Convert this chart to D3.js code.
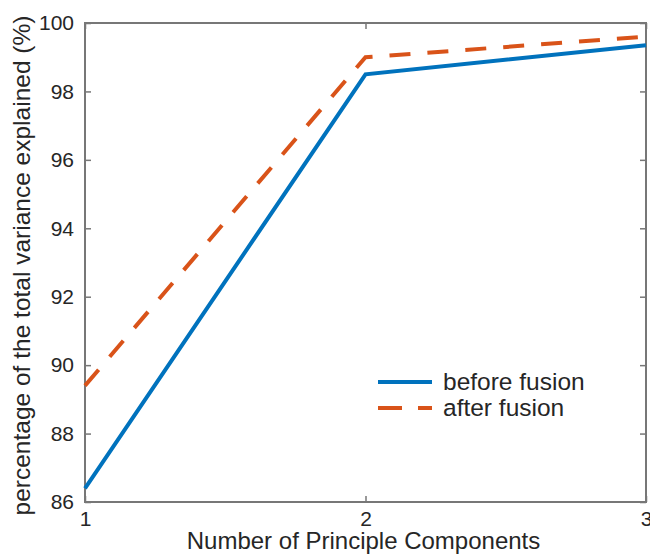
<!DOCTYPE html>
<html>
<head>
<meta charset="utf-8">
<script src="https://cdn.jsdelivr.net/npm/d3@7"></script>
<style>
  body { margin: 0; background: #fff; }
  text { font-family: "Liberation Sans", Arial, Helvetica, sans-serif; fill: #262626; }
</style>
</head>
<body>
<svg width="650" height="556"></svg>
<script>
const components = [1, 2, 3];
const beforeFusion = [86.4, 98.5, 99.35];
const afterFusion = [89.4, 99.0, 99.6];
const yTicks = [86, 88, 90, 92, 94, 96, 98, 100];
const seriesNames = ['before fusion', 'after fusion'];

const svg = d3.select('svg');
const margin = {left: 85, right: 4, top: 23, bottom: 54};
const width = +svg.attr('width');
const height = +svg.attr('height');

const x = d3.scaleLinear().domain([1, 3]).range([margin.left, width - margin.right]);
const y = d3.scaleLinear().domain([86, 100]).range([height - margin.bottom, margin.top]);

const axisColor = '#777';

// ticks on all four sides, pointing inwards
svg.append('g')
  .attr('transform', `translate(0,${y(86)})`)
  .call(d3.axisBottom(x).tickValues(components).tickSize(-6).tickPadding(9).tickFormat(d3.format('d')))
  .call(g => g.select('.domain').remove())
  .call(g => g.selectAll('line').attr('stroke', axisColor).attr('stroke-width', 1.5))
  .call(g => g.selectAll('text').attr('font-size', 21).style('fill', '#262626'));

svg.append('g')
  .attr('transform', `translate(0,${y(100)})`)
  .call(d3.axisTop(x).tickValues(components).tickSize(-6).tickFormat(''))
  .call(g => g.select('.domain').remove())
  .call(g => g.selectAll('line').attr('stroke', axisColor).attr('stroke-width', 1.5));

svg.append('g')
  .attr('transform', `translate(${x(1)},0)`)
  .call(d3.axisLeft(y).tickValues(yTicks).tickSize(-6).tickPadding(11))
  .call(g => g.select('.domain').remove())
  .call(g => g.selectAll('line').attr('stroke', axisColor).attr('stroke-width', 1.5))
  .call(g => g.selectAll('text').attr('font-size', 21).style('fill', '#262626'));

svg.append('g')
  .attr('transform', `translate(${x(3)},0)`)
  .call(d3.axisRight(y).tickValues(yTicks).tickSize(-6).tickFormat(''))
  .call(g => g.select('.domain').remove())
  .call(g => g.selectAll('line').attr('stroke', axisColor).attr('stroke-width', 1.5));

// box
svg.append('rect')
  .attr('x', x(1)).attr('y', y(100))
  .attr('width', x(3) - x(1)).attr('height', y(86) - y(100))
  .attr('fill', 'none').attr('stroke', axisColor).attr('stroke-width', 2);

const line = d3.line().x((d, i) => x(components[i])).y(d => y(d));

svg.append('path')
  .datum(beforeFusion)
  .attr('d', line)
  .attr('fill', 'none')
  .attr('stroke', '#0072BD')
  .attr('stroke-width', 4);

svg.append('path')
  .datum(afterFusion)
  .attr('d', line)
  .attr('fill', 'none')
  .attr('stroke', '#D95319')
  .attr('stroke-width', 4)
  .attr('stroke-dasharray', '21,17');

// legend
const legend = svg.append('g').attr('transform', 'translate(378,382)');
const styles = [
  {color: '#0072BD', dash: null},
  {color: '#D95319', dash: '24,16'}
];
seriesNames.forEach((name, i) => {
  const row = legend.append('g').attr('transform', `translate(0,${i * 26})`);
  row.append('line')
    .attr('x1', 0).attr('x2', 54)
    .attr('stroke', styles[i].color)
    .attr('stroke-width', 4)
    .attr('stroke-dasharray', styles[i].dash);
  row.append('text')
    .attr('x', 65).attr('y', 0)
    .attr('dy', '0.33em')
    .attr('font-size', 24.5)
    .text(name);
});

// axis titles
svg.append('text')
  .attr('x', (x(1) + x(3)) / 2 - 2)
  .attr('y', 549)
  .attr('text-anchor', 'middle')
  .attr('font-size', 24)
  .text('Number of Principle Components');

svg.append('text')
  .attr('transform', `translate(30,${(y(86) + y(100)) / 2 + 3}) rotate(-90)`)
  .attr('text-anchor', 'middle')
  .attr('font-size', 24.5)
  .text('percentage of the total variance explained (%)');
</script>
</body>
</html>
